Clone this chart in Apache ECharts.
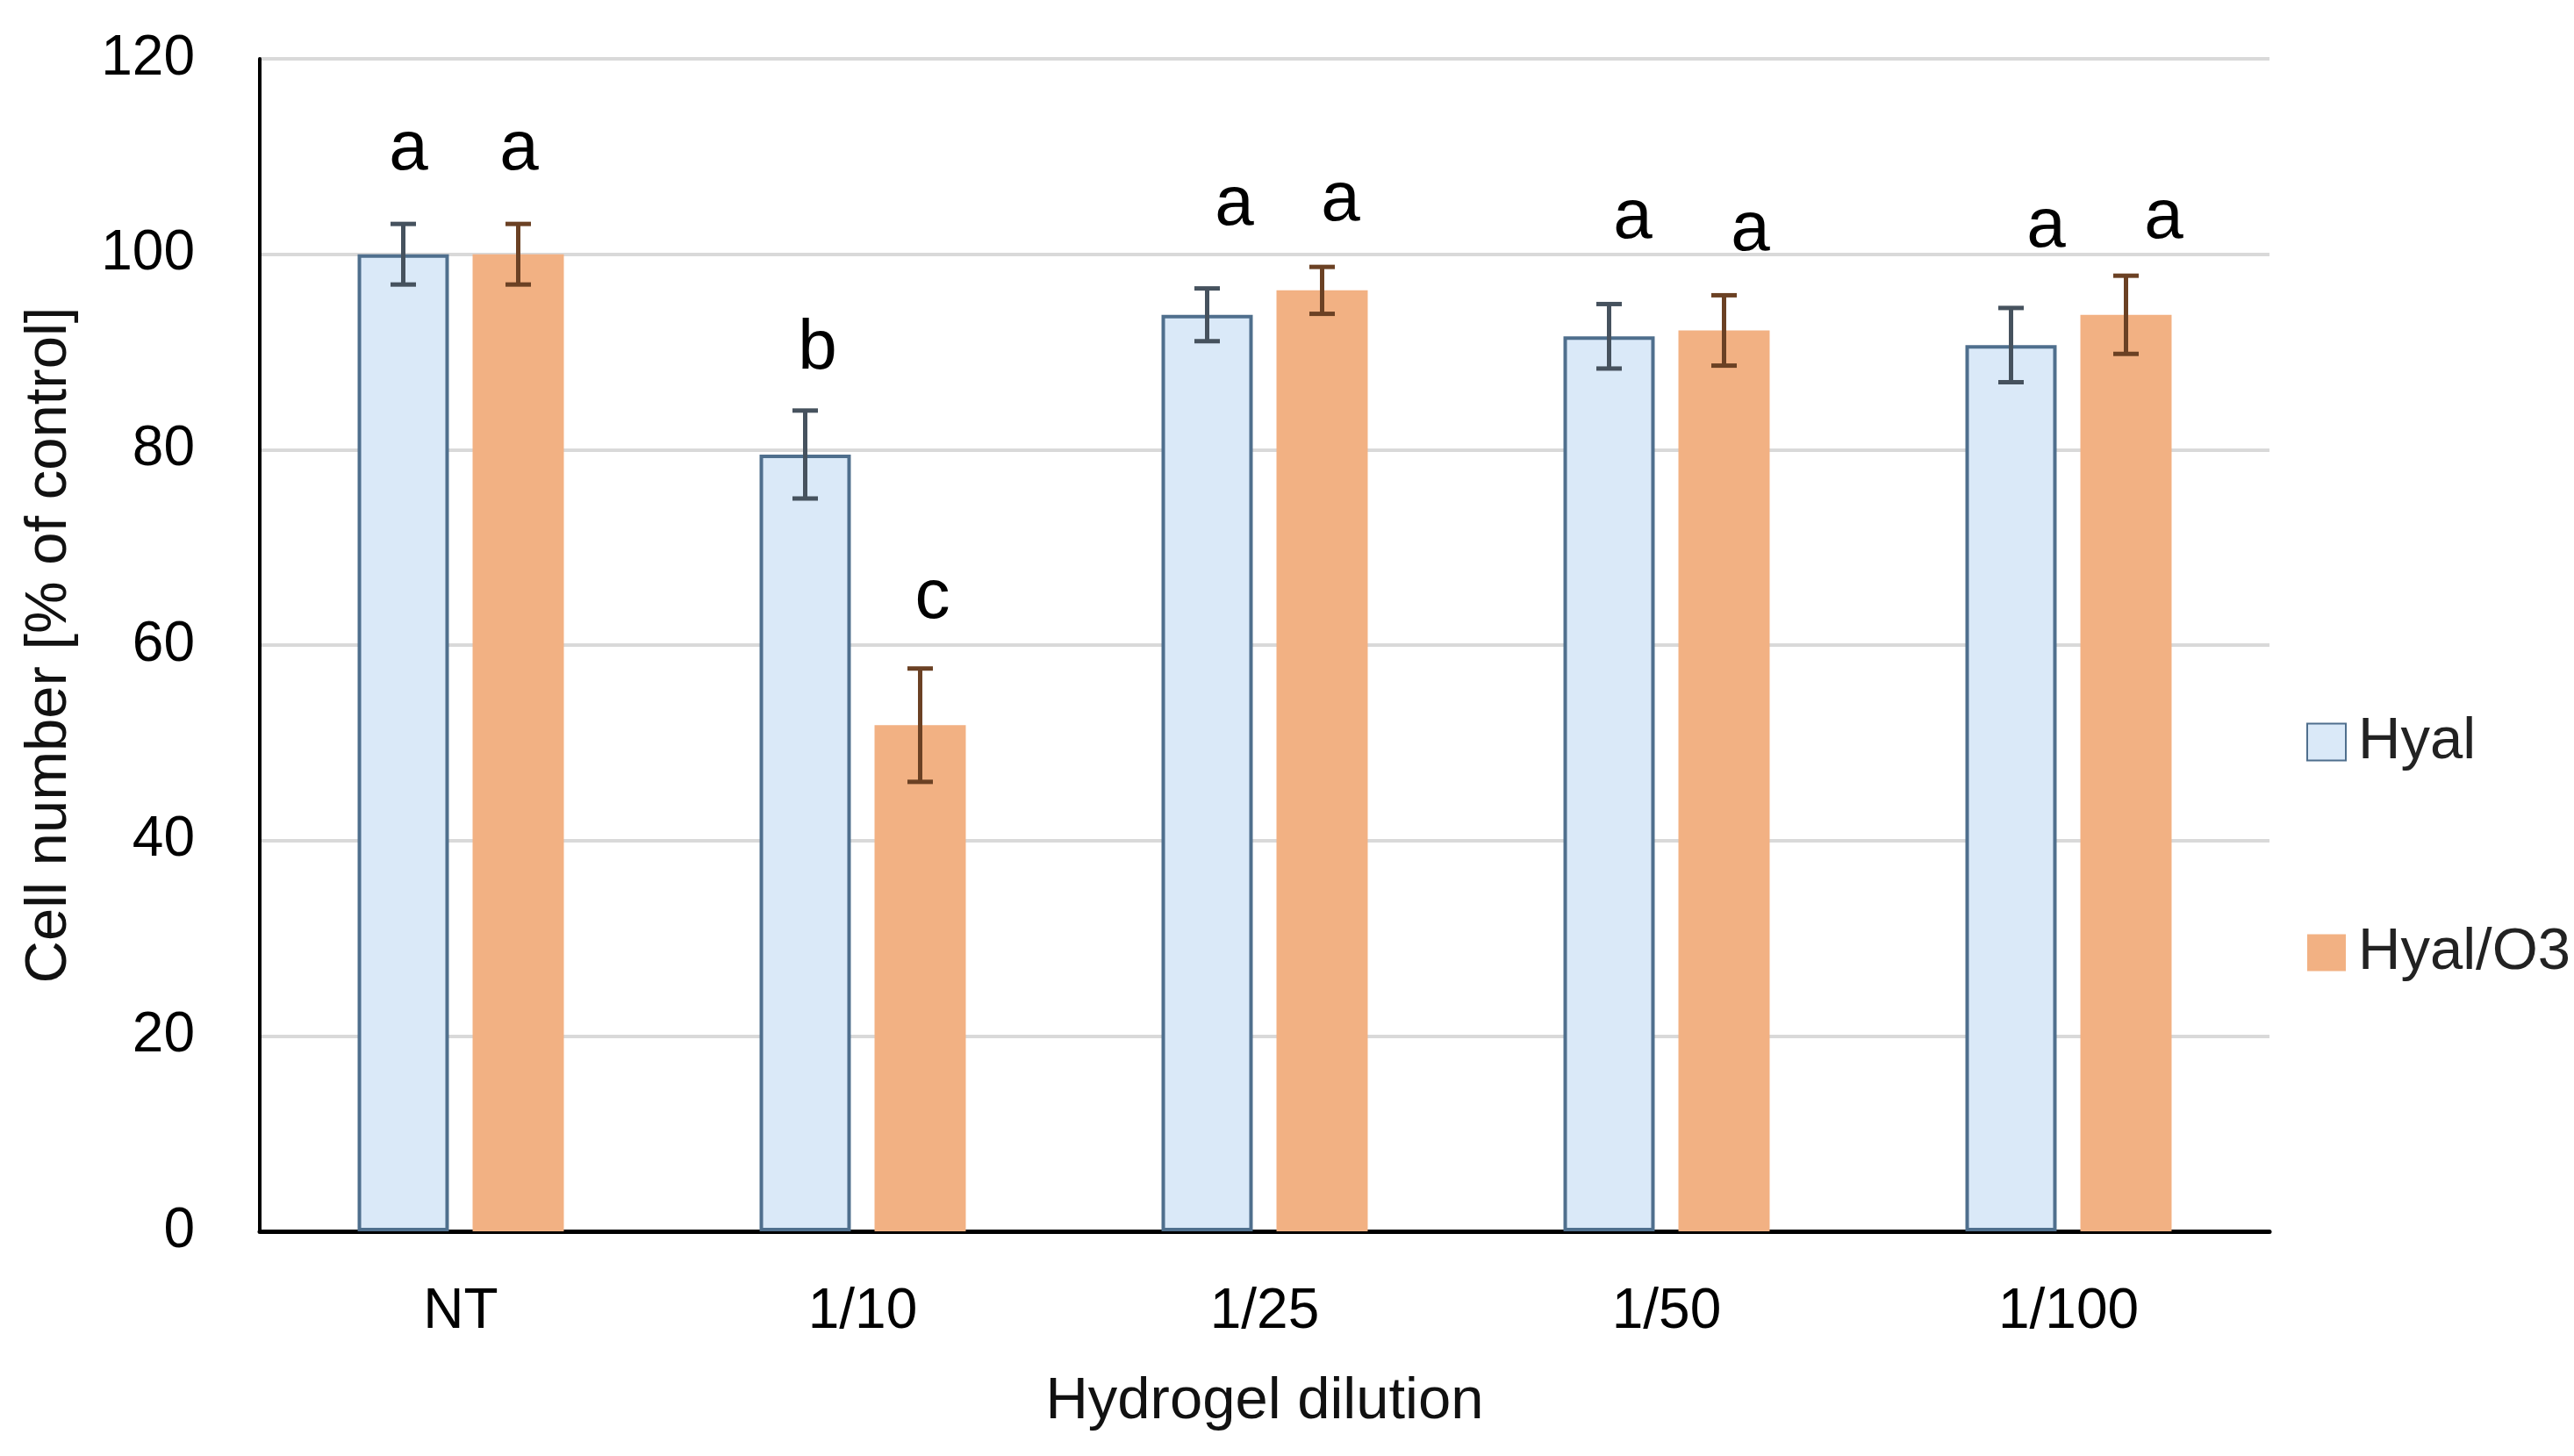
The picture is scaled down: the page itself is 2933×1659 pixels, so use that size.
<!DOCTYPE html>
<html>
<head>
<meta charset="utf-8">
<script src="https://cdn.jsdelivr.net/npm/echarts@6/dist/echarts.min.js"></script>
<style>
html,body{margin:0;padding:0;background:#fff;}
#chart{width:2933px;height:1659px;}
</style>
</head>
<body>
<div id="chart"></div>
<script>
// ---- data ----
const categories = ['NT', '1/10', '1/25', '1/50', '1/100'];
const seriesNames = ['Hyal', 'Hyal/O3'];
const hyalMean = [100, 79.5, 93.8, 91.6, 90.7];
const hyalErr  = [3.1, 4.5, 2.7, 3.3, 3.8];
const o3Mean   = [100, 51.8, 96.3, 92.2, 93.8];
const o3Err    = [3.1, 5.8, 2.4, 3.6, 4.0];
const hyalLetters = ['a', 'b', 'a', 'a', 'a'];
const o3Letters   = ['a', 'c', 'a', 'a', 'a'];
const hyalLetterY = [108.2, 87.8, 102.5, 101.2, 100.3];
const o3LetterY   = [108.2, 62.3, 103.0, 99.9, 101.2];
const yMin = 0, yMax = 120, yStep = 20;

// ---- layout / style ----
const BAR_W = 0.227;      // fraction of category band
const BAR_GAP = 0.26;     // fraction of bar width
const letterShiftHyal = [6, 14, 31, 27, 40];
const letterShiftO3   = [1, 14, 21, 30, 43];
const FONT = 'Liberation Sans, Arial, sans-serif';
const LETTER_SIZE = 80;

function errData(mean, err) {
  return mean.map((m, i) => [i, m - err[i], m + err[i]]);
}
function letterData(ys, letters) {
  return ys.map((y, i) => [i, y, letters[i]]);
}
function offsetFor(band, sign) {
  return sign * band * BAR_W * (1 + BAR_GAP) / 2;
}
function errRender(sign, color) {
  return function (params, api) {
    const idx = api.value(0);
    const band = api.size([1, 0])[0];
    const cx = api.coord([idx, 0])[0] + offsetFor(band, sign);
    const yLo = api.coord([idx, api.value(1)])[1];
    const yHi = api.coord([idx, api.value(2)])[1];
    const cap = 14.5;
    const st = { stroke: color, lineWidth: 5 };
    return {
      type: 'group',
      children: [
        { type: 'line', shape: { x1: cx, y1: yLo, x2: cx, y2: yHi }, style: st },
        { type: 'line', shape: { x1: cx - cap, y1: yHi, x2: cx + cap, y2: yHi }, style: st },
        { type: 'line', shape: { x1: cx - cap, y1: yLo, x2: cx + cap, y2: yLo }, style: st }
      ]
    };
  };
}
function letterRender(sign, shifts) {
  return function (params, api) {
    const idx = api.value(0);
    const band = api.size([1, 0])[0];
    const cx = api.coord([idx, 0])[0] + offsetFor(band, sign) + shifts[idx];
    const yb = api.coord([idx, api.value(1)])[1];
    const txt = (sign < 0 ? hyalLetters : o3Letters)[idx];
    return {
      type: 'text',
      style: {
        text: txt,
        x: cx,
        y: yb - 0.3465 * LETTER_SIZE,
        fill: '#000',
        fontSize: LETTER_SIZE,
        fontFamily: FONT,
        align: 'center',
        verticalAlign: 'middle'
      }
    };
  };
}

const chart = echarts.init(document.getElementById('chart'), null, { renderer: 'canvas' });
chart.setOption({
  backgroundColor: '#ffffff',
  animation: false,
  textStyle: { fontFamily: FONT },
  grid: { left: 296, right: 347, top: 67, bottom: 256, containLabel: false },
  legend: {
    data: [
      { name: seriesNames[0], icon: 'rect' },
      { name: seriesNames[1], icon: 'rect' }
    ],
    orient: 'vertical',
    left: 2623,
    top: 807,
    itemWidth: 44,
    itemHeight: 42,
    itemGap: 173,
    textStyle: { fontSize: 67, color: '#222', fontFamily: FONT, lineHeight: 67, padding: [0, 0, 0, 9] }
  },
  xAxis: {
    type: 'category',
    data: categories,
    name: 'Hydrogel dilution',
    nameLocation: 'middle',
    nameGap: 161,
    nameTextStyle: { fontSize: 67, color: '#111', fontFamily: FONT, lineHeight: 67 },
    axisLine: { show: true, lineStyle: { color: '#000', width: 5 } },
    axisTick: { show: false },
    axisLabel: { fontSize: 64, color: '#000', margin: 60, lineHeight: 64, fontFamily: FONT },
    splitLine: { show: false }
  },
  yAxis: {
    type: 'value',
    min: yMin,
    max: yMax,
    interval: yStep,
    name: 'Cell number [% of control]',
    nameLocation: 'middle',
    nameGap: 206,
    nameTextStyle: { fontSize: 67, color: '#111', fontFamily: FONT, lineHeight: 67 },
    axisLine: { show: true, lineStyle: { color: '#000', width: 4 } },
    axisTick: { show: false },
    axisLabel: { fontSize: 64, color: '#000', margin: 74, fontFamily: FONT },
    splitLine: { show: true, lineStyle: { color: '#d9d9d9', width: 4 } }
  },
  series: [
    {
      name: seriesNames[0],
      type: 'bar',
      data: hyalMean,
      barWidth: (BAR_W * 100) + '%',
      barGap: (BAR_GAP * 100) + '%',
      itemStyle: { color: '#dae9f8', borderColor: '#4f6f8d', borderWidth: 4 }
    },
    {
      name: seriesNames[1],
      type: 'bar',
      data: o3Mean,
      barWidth: (BAR_W * 100) + '%',
      barGap: (BAR_GAP * 100) + '%',
      itemStyle: { color: '#f2b183' }
    },
    {
      name: 'errHyal',
      type: 'custom',
      z: 5,
      data: errData(hyalMean, hyalErr),
      encode: { x: 0, y: [1, 2] },
      renderItem: errRender(-1, '#46525e')
    },
    {
      name: 'errO3',
      type: 'custom',
      z: 5,
      data: errData(o3Mean, o3Err),
      encode: { x: 0, y: [1, 2] },
      renderItem: errRender(1, '#6b4124')
    },
    {
      name: 'lettersHyal',
      type: 'custom',
      z: 6,
      data: letterData(hyalLetterY, hyalLetters),
      encode: { x: 0, y: 1 },
      renderItem: letterRender(-1, letterShiftHyal)
    },
    {
      name: 'lettersO3',
      type: 'custom',
      z: 6,
      data: letterData(o3LetterY, o3Letters),
      encode: { x: 0, y: 1 },
      renderItem: letterRender(1, letterShiftO3)
    }
  ]
});
</script>
</body>
</html>
